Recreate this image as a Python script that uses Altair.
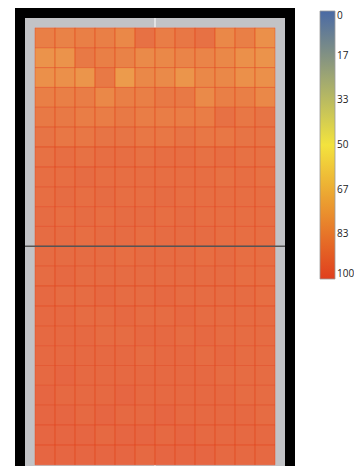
import altair as alt
import pandas as pd

# Heat values per cell, row 0 = top of the court, 12 columns per row
values = [
    [87, 86, 87, 87, 84, 92, 88, 90, 92, 84, 87, 81],
    [80, 80, 89, 87, 86, 83, 84, 85, 85, 84, 81, 80],
    [81, 81, 79, 89, 77, 84, 83, 79, 84, 84, 81, 81],
    [87, 87, 88, 84, 87, 87, 89, 89, 83, 87, 87, 84],
    [89, 89, 88, 88, 89, 88, 88, 88, 88, 92, 90, 91],
    [91, 90, 90, 91, 91, 90, 90, 91, 90, 90, 91, 91],
    [92, 93, 92, 93, 93, 92, 93, 93, 92, 93, 92, 92],
    [93, 93, 94, 93, 93, 93, 93, 93, 93, 92, 93, 92],
    [93, 94, 93, 94, 93, 93, 94, 93, 93, 93, 93, 93],
    [94, 93, 94, 93, 94, 94, 93, 94, 93, 93, 93, 93],
    [94, 94, 93, 94, 94, 93, 94, 94, 94, 93, 93, 93],
    [94, 94, 94, 94, 93, 94, 94, 94, 93, 94, 93, 93],
    [94, 95, 94, 94, 94, 94, 94, 94, 94, 94, 93, 93],
    [95, 94, 94, 95, 94, 94, 95, 94, 94, 94, 94, 93],
    [95, 95, 94, 94, 95, 94, 94, 95, 94, 94, 94, 94],
    [95, 95, 95, 94, 94, 95, 95, 94, 95, 94, 94, 94],
    [95, 95, 95, 95, 95, 94, 95, 95, 94, 95, 94, 94],
    [95, 96, 95, 95, 95, 95, 95, 95, 95, 94, 94, 94],
    [96, 95, 95, 95, 96, 95, 95, 95, 95, 95, 94, 94],
    [96, 96, 95, 96, 95, 95, 96, 95, 95, 95, 95, 94],
    [96, 96, 96, 95, 96, 96, 95, 96, 95, 95, 95, 95],
    [96, 96, 96, 96, 96, 95, 96, 96, 96, 95, 95, 95],
]
N_ROWS = len(values)
N_COLS = len(values[0])

legend_ticks = [0, 100 / 6, 200 / 6, 50, 400 / 6, 500 / 6, 100]
color_stops = [0, 50, 100]
color_range = ["#4a6aa5", "#f3e33e", "#e03e1e"]

cells = pd.DataFrame(
    [{"col": c, "row": r, "value": v}
     for r, row in enumerate(values) for c, v in enumerate(row)]
)
court = pd.DataFrame([{"x": -0.5, "x2": N_COLS + 0.5, "y": -0.5, "y2": N_ROWS + 0.5}])
surface = pd.DataFrame([{"x": 0, "x2": N_COLS, "y": 0, "y2": N_ROWS}])
center = pd.DataFrame([{"x": N_COLS / 2, "y": -0.5, "y2": N_ROWS + 0.5}])
net = pd.DataFrame([{"y": N_ROWS / 2, "x": -0.5, "x2": N_COLS + 0.5}])

xs = alt.Scale(domain=[-1, N_COLS + 1], nice=False, zero=False)
ys = alt.Scale(domain=[-1, N_ROWS + 0.06], nice=False, zero=False, reverse=True)

gray = alt.Chart(court).mark_rect(color="#c2c3c6", clip=True).encode(
    x=alt.X("x:Q", scale=xs, axis=None), x2="x2:Q",
    y=alt.Y("y:Q", scale=ys, axis=None), y2="y2:Q",
)

center_line = alt.Chart(center).mark_rule(color="#ececec", strokeWidth=1.5, clip=True).encode(
    x=alt.X("x:Q", scale=xs, axis=None),
    y=alt.Y("y:Q", scale=ys, axis=None), y2="y2:Q",
)

white = alt.Chart(surface).mark_rect(color="#ffffff").encode(
    x=alt.X("x:Q", scale=xs, axis=None), x2="x2:Q",
    y=alt.Y("y:Q", scale=ys, axis=None), y2="y2:Q",
)

heat = alt.Chart(cells).mark_rect(
    fillOpacity=0.85, stroke="#e0461e", strokeWidth=0.8, strokeOpacity=0.55
).transform_calculate(
    col2="datum.col + 1", row2="datum.row + 1", neg="-datum.value"
).encode(
    x=alt.X("col:Q", scale=xs, axis=None), x2="col2:Q",
    y=alt.Y("row:Q", scale=ys, axis=None), y2="row2:Q",
    color=alt.Color(
        "neg:Q",
        scale=alt.Scale(
            domain=[-s for s in reversed(color_stops)],
            range=list(reversed(color_range)),
            interpolate="rgb",
        ),
        legend=alt.Legend(
            title=None, orient="none", direction="vertical",
            legendX=305, legendY=3,
            gradientLength=268, gradientThickness=15,
            gradientStrokeColor="#999", gradientStrokeWidth=0.8,
            values=[-t for t in legend_ticks],
            labelExpr="format(abs(datum.value), '.0f')",
            labelFont="Open Sans", labelFontSize=10, labelColor="#222",
            labelOffset=2, labelBaseline="middle", labelOverlap=False,
        ),
    ),
)

net_line = alt.Chart(net).mark_rule(color="#555555", strokeWidth=1.5).encode(
    x=alt.X("x:Q", scale=xs, axis=None), x2="x2:Q",
    y=alt.Y("y:Q", scale=ys, axis=None),
)

chart = alt.layer(gray, center_line, white, heat, net_line).properties(
    width=280, height=458,
    autosize=alt.AutoSizeParams(type="none"),
    padding={"left": 7, "top": 0, "right": 59, "bottom": 0},
).configure_view(fill="#000000", strokeWidth=0)

chart.save("out.html", embed_options={"renderer": "svg", "actions": False})
